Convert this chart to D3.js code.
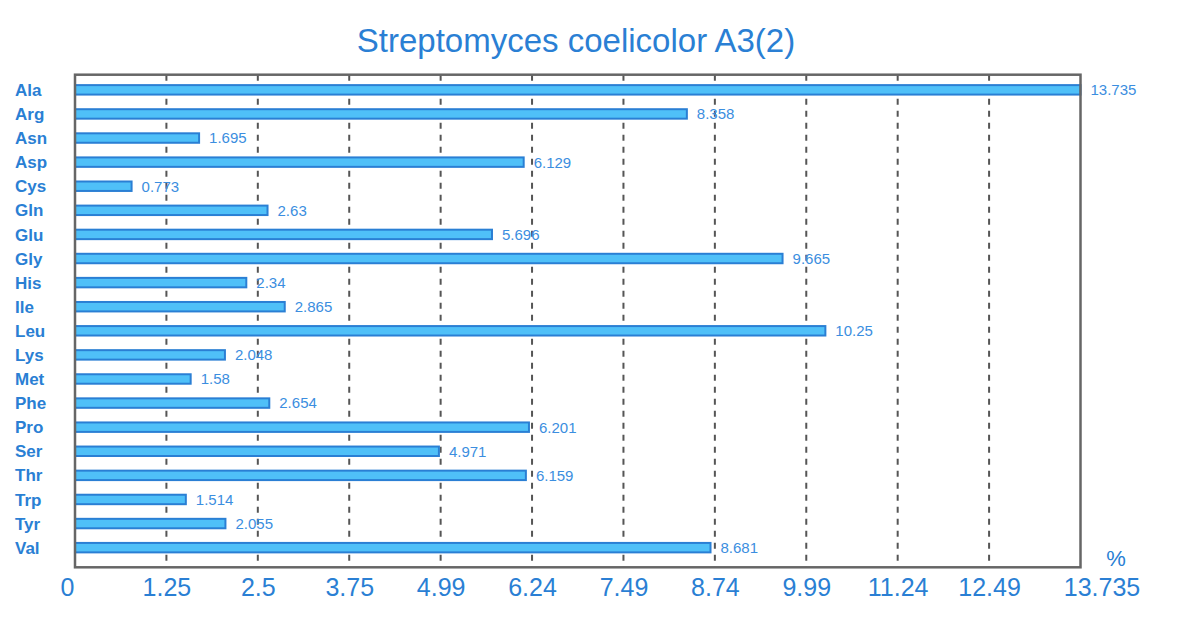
<!DOCTYPE html>
<html>
<head>
<meta charset="utf-8">
<script src="https://cdn.jsdelivr.net/npm/d3@7"></script>
<style>
  html, body { margin: 0; padding: 0; background: #fff; }
  svg { display: block; font-family: Arial, "Liberation Sans", sans-serif; }
</style>
</head>
<body>
<svg id="chart" width="1200" height="642"></svg>
<script>
const categories = ["Ala","Arg","Asn","Asp","Cys","Gln","Glu","Gly","His","Ile","Leu","Lys","Met","Phe","Pro","Ser","Thr","Trp","Tyr","Val"];
const values = [13.735,8.358,1.695,6.129,0.773,2.63,5.696,9.665,2.34,2.865,10.25,2.048,1.58,2.654,6.201,4.971,6.159,1.514,2.055,8.681];
const tickValues = [0,1.2486,2.4973,3.7459,4.9945,6.2432,7.4918,8.7405,9.9891,11.2377,12.4864,13.735];
const tickLabels = ["0","1.25","2.5","3.75","4.99","6.24","7.49","8.74","9.99","11.24","12.49","13.735"];
const titleText = "Streptomyces coelicolor A3(2)";
const unitText = "%";

const blue = "#2a7fd4";
const svg = d3.select("#chart");

const plot = {left: 75, right: 1080.5, top: 74.7, bottom: 567.3};

const x = d3.scaleLinear().domain([0, 13.735]).range([plot.left, plot.right]);
const y = d3.scaleBand().domain(categories).range([77.8, 559.7]).paddingInner(0.566).paddingOuter(0.283);

// Title
svg.append("text")
  .attr("x", 576).attr("y", 52)
  .attr("text-anchor", "middle")
  .attr("font-size", 33)
  .attr("fill", blue)
  .text(titleText);

// Gridlines
svg.append("g").selectAll("line")
  .data(tickValues.slice(1, -1))
  .join("line")
  .attr("x1", d => x(d)).attr("x2", d => x(d))
  .attr("y1", plot.top).attr("y2", plot.bottom)
  .attr("stroke", "#555")
  .attr("stroke-width", 2)
  .attr("stroke-dasharray", "6,6");

// Bars
svg.append("g").selectAll("rect")
  .data(categories)
  .join("rect")
  .attr("x", x(0))
  .attr("y", d => y(d) + 0.5)
  .attr("width", (d, i) => x(values[i]) - x(0))
  .attr("height", y.bandwidth() - 1)
  .attr("fill", "#4fc0f8")
  .attr("stroke", blue)
  .attr("stroke-width", 2);

// Frame
svg.append("rect")
  .attr("x", plot.left).attr("y", plot.top)
  .attr("width", plot.right - plot.left).attr("height", plot.bottom - plot.top)
  .attr("fill", "none")
  .attr("stroke", "#666")
  .attr("stroke-width", 2.5);

// Value labels
svg.append("g").selectAll("text")
  .data(categories)
  .join("text")
  .attr("x", (d, i) => x(values[i]) + 10)
  .attr("y", d => y(d) + y.bandwidth() / 2)
  .attr("dy", "0.36em")
  .attr("font-size", 15)
  .attr("fill", "#3b8ee0")
  .text((d, i) => values[i]);

// Category labels
svg.append("g").selectAll("text")
  .data(categories)
  .join("text")
  .attr("x", 15)
  .attr("y", d => y(d) + y.bandwidth() / 2)
  .attr("dy", "0.36em")
  .attr("font-size", 17)
  .attr("font-weight", "bold")
  .attr("fill", blue)
  .text(d => d);

// X tick labels
const xAxis = d3.axisBottom(x)
  .tickValues(tickValues)
  .tickFormat((d, i) => tickLabels[i])
  .tickSize(0)
  .tickPadding(0);
const gx = svg.append("g").attr("transform", `translate(0, ${plot.bottom + 11})`).call(xAxis);
gx.select(".domain").remove();
const nT = tickLabels.length;
gx.selectAll("text")
  .attr("font-size", 25)
  .attr("font-family", "Arial, 'Liberation Sans', sans-serif")
  .attr("fill", blue)
  .attr("text-anchor", (d, i) => i === 0 ? "end" : "middle")
  .attr("dx", (d, i) => i === 0 ? -1 : (i === nT - 1 ? 21 : 0));

// Unit
svg.append("text")
  .attr("x", 1116).attr("y", 566)
  .attr("text-anchor", "middle")
  .attr("font-size", 22)
  .attr("fill", blue)
  .text(unitText);
</script>
</body>
</html>
